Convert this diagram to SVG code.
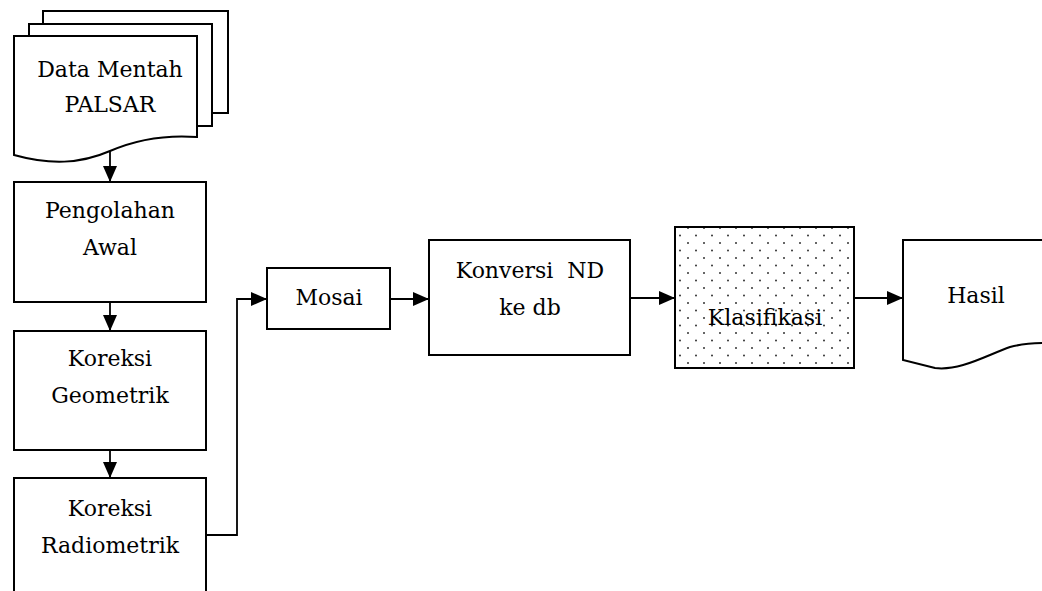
<svg xmlns="http://www.w3.org/2000/svg" width="1042" height="591" viewBox="0 0 1042 591">
<style>
.box{fill:#fff;stroke:#000;stroke-width:2}
.t{font-family:"DejaVu Serif","Liberation Serif",serif;font-size:22px;fill:#000;text-anchor:middle}
.c{fill:none;stroke:#000;stroke-width:1.8}
</style>
<defs>
<marker id="ah" viewBox="0 0 16 14" refX="16" refY="7" markerWidth="16" markerHeight="14" markerUnits="userSpaceOnUse" orient="auto">
<path d="M0,0 L16,7 L0,14 Z" fill="#000"/>
</marker>
<pattern id="dots" x="675" y="227" width="16" height="15" patternUnits="userSpaceOnUse">
<circle cx="5" cy="8.5" r="1" fill="#333"/>
<circle cx="13" cy="1" r="1" fill="#333"/>
</pattern>
</defs>
<rect width="1042" height="591" fill="#fff"/>
<g id="connectors">
<path class="c" d="M110,151 V182" marker-end="url(#ah)"/>
<path class="c" d="M110,302 V331" marker-end="url(#ah)"/>
<path class="c" d="M110,450 V478" marker-end="url(#ah)"/>
<path class="c" d="M206,535 H237 V299 H267" marker-end="url(#ah)"/>
<path class="c" d="M390,299 H429" marker-end="url(#ah)"/>
<path class="c" d="M630,298 H675" marker-end="url(#ah)"/>
<path class="c" d="M854,298 H903" marker-end="url(#ah)"/>
</g>
<g id="data-mentah">
<rect class="box" x="43" y="11" width="185" height="102"/>
<rect class="box" x="29" y="24" width="183" height="102"/>
<path class="box" d="M14,36 H197 V137 C170,135 140,138 110,151 C80,164 50,165 14,155 Z"/>
<text class="t" x="110" y="77">Data Mentah</text>
<text class="t" x="110" y="112">PALSAR</text>
</g>
<g id="pengolahan-awal">
<rect class="box" x="14" y="182" width="192" height="120"/>
<text class="t" x="110" y="218">Pengolahan</text>
<text class="t" x="110" y="255">Awal</text>
</g>
<g id="koreksi-geometrik">
<rect class="box" x="14" y="331" width="192" height="119"/>
<text class="t" x="110" y="366">Koreksi</text>
<text class="t" x="110" y="403">Geometrik</text>
</g>
<g id="koreksi-radiometrik">
<rect class="box" x="14" y="478" width="192" height="120"/>
<text class="t" x="110" y="516">Koreksi</text>
<text class="t" x="110" y="553">Radiometrik</text>
</g>
<g id="mosai">
<rect class="box" x="267" y="268" width="123" height="61"/>
<text class="t" x="329" y="305">Mosai</text>
</g>
<g id="konversi">
<rect class="box" x="429" y="240" width="201" height="115"/>
<text class="t" x="530" y="278" xml:space="preserve">Konversi  ND</text>
<text class="t" x="530" y="315">ke db</text>
</g>
<g id="klasifikasi">
<rect x="675" y="227" width="179" height="141" fill="#fff"/>
<rect x="675" y="227" width="179" height="141" fill="url(#dots)" stroke="#000" stroke-width="2"/>
<text class="t" x="765" y="325">Klasifikasi</text>
</g>
<g id="hasil">
<path class="box" d="M1046,240 H903 V360 L935,368 C960,371 985,356 1010,347 C1025,343 1035,343 1046,343"/>
<text class="t" x="976" y="303">Hasil</text>
</g>
</svg>
